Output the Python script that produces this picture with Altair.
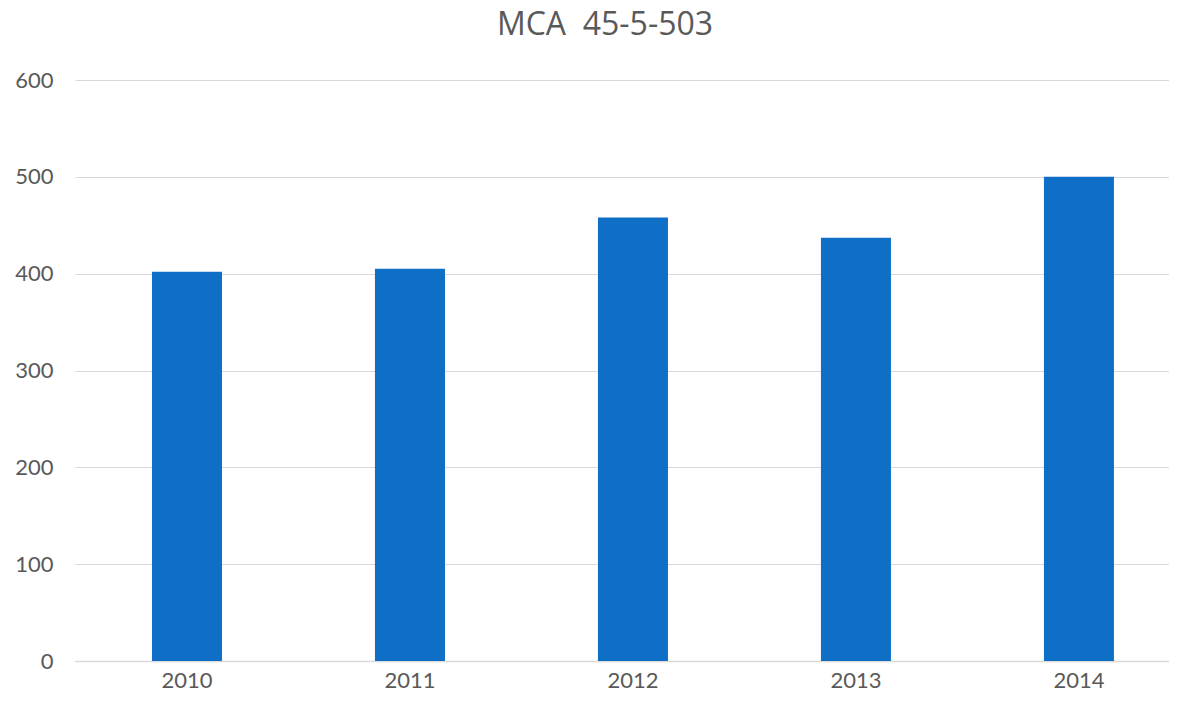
import altair as alt
import pandas as pd

years = ["2010", "2011", "2012", "2013", "2014"]
values = [402, 405, 458, 437, 500]
y_ticks = [0, 100, 200, 300, 400, 500, 600]

df = pd.DataFrame({"year": years, "value": values})

chart = alt.Chart(df).mark_bar(color="#0F6FC6").encode(
    x=alt.X("year:N", sort=years, title=None,
            scale=alt.Scale(paddingInner=0.686, paddingOuter=0.296, align=0.583, round=False),
            axis=alt.Axis(labelAngle=0, ticks=False, domain=True, domainColor="#d9d9d9",
                          domainWidth=1.5,
                          labelFont="Lato", labelFontSize=22, labelColor="#595959",
                          labelPadding=9)),
    y=alt.Y("value:Q", title=None,
            scale=alt.Scale(domain=[0, 600], nice=False),
            axis=alt.Axis(values=y_ticks, ticks=False, domain=False, gridColor="#d9d9d9",
                          gridWidth=1.2,
                          labelFont="Lato", labelFontSize=22, labelColor="#595959",
                          labelPadding=22)),
).properties(
    width=1094,
    height=581,
    autosize=alt.AutoSizeParams(type="none"),
    padding={"left": 67, "top": 72, "right": 0, "bottom": 32},
    title=alt.TitleParams("MCA \u00a045-5-503", font="Open Sans", fontSize=32, fontWeight="normal",
                          color="#595959", offset=27, dx=-17),
).configure_view(stroke=None)

chart.save("out.html", embed_options={"renderer": "svg", "actions": False})
